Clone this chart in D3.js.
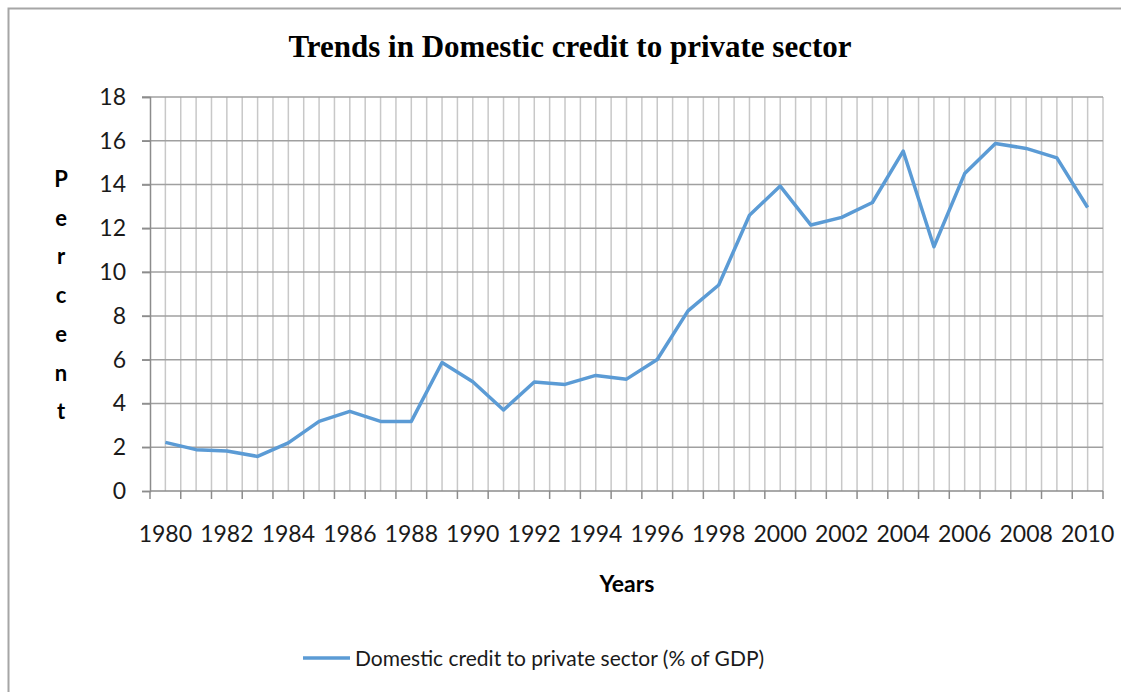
<!DOCTYPE html>
<html>
<head>
<meta charset="utf-8">
<script src="https://cdn.jsdelivr.net/npm/d3@7"></script>
<style>
  body { margin: 0; background: #fff; }
  svg { display: block; }
</style>
</head>
<body>
<div id="chart"></div>
<script>
// Chart data
var years = d3.range(1980, 2011);
var credit = [2.22, 1.89, 1.83, 1.58, 2.2, 3.18, 3.64, 3.18, 3.18, 5.87,
              4.99, 3.7, 4.98, 4.87, 5.28, 5.11, 6.01, 8.23, 9.41, 12.6,
              13.93, 12.15, 12.5, 13.18, 15.53, 11.16, 14.5, 15.88, 15.65, 15.22,
              12.95];
var yTicks = [0, 2, 4, 6, 8, 10, 12, 14, 16, 18];
var xLabels = years.filter(function(y) { return y % 2 === 0; });
var seriesName = "Domestic credit to private sector (% of GDP)";

// SVG area
var svgWidth = 1121;
var svgHeight = 692;

var chartMargin = { top: 97, right: 18, bottom: 201, left: 150 };
var chartWidth = svgWidth - chartMargin.left - chartMargin.right;
var chartHeight = svgHeight - chartMargin.top - chartMargin.bottom;

var svg = d3.select("#chart")
    .append("svg")
    .attr("width", svgWidth)
    .attr("height", svgHeight);

// outer frame
svg.append("rect")
    .attr("x", 8.5).attr("y", 8.5)
    .attr("width", svgWidth + 10).attr("height", svgHeight + 10)
    .attr("fill", "none")
    .attr("stroke", "#a6a6a6")
    .attr("stroke-width", 2);

var chartGroup = svg.append("g")
    .attr("transform", `translate(${chartMargin.left}, ${chartMargin.top})`);

// scales
var xBandScale = d3.scaleBand()
    .domain(years)
    .range([0, chartWidth]);

var yLinearScale = d3.scaleLinear()
    .domain([0, 18])
    .range([chartHeight, 0]);

var bw = xBandScale.bandwidth();

// vertical gridlines: category edges and centres
var vLines = [];
years.forEach(function(y) {
    vLines.push(xBandScale(y) + bw / 2);
    vLines.push(xBandScale(y) + bw);
});
chartGroup.append("g")
    .selectAll("line")
    .data(vLines)
    .enter()
    .append("line")
    .attr("x1", d => d).attr("x2", d => d)
    .attr("y1", 0).attr("y2", chartHeight)
    .attr("stroke", "#c8c8c8")
    .attr("stroke-width", 1.5);

// horizontal gridlines
chartGroup.append("g")
    .selectAll("line")
    .data(yTicks.filter(d => d > 0))
    .enter()
    .append("line")
    .attr("x1", -8).attr("x2", chartWidth)
    .attr("y1", d => yLinearScale(d)).attr("y2", d => yLinearScale(d))
    .attr("stroke", "#a0a0a0")
    .attr("stroke-width", 1.5);

// left axis
var leftAxis = d3.axisLeft(yLinearScale)
    .tickValues(yTicks)
    .tickSize(8)
    .tickPadding(16);

var yAxisG = chartGroup.append("g").call(leftAxis);
yAxisG.select(".domain").attr("stroke", "#8c8c8c").attr("stroke-width", 1.5);
yAxisG.selectAll(".tick line").attr("stroke", "#8c8c8c").attr("stroke-width", 1.5);
yAxisG.selectAll("text")
    .attr("fill", "#1a1a1a")
    .style("font-family", "Lato, 'Open Sans', sans-serif")
    .style("font-size", "23px");

// bottom axis: ticks on every category edge
var bottomAxisG = chartGroup.append("g")
    .attr("transform", `translate(0, ${chartHeight})`);
bottomAxisG.append("line")
    .attr("x1", 0).attr("x2", chartWidth)
    .attr("stroke", "#8c8c8c").attr("stroke-width", 1.5);
bottomAxisG.selectAll("line.tick")
    .data([years[0]].concat(years))
    .enter()
    .append("line")
    .attr("class", "tick")
    .attr("x1", (d, i) => i === 0 ? 0 : xBandScale(d) + bw)
    .attr("x2", (d, i) => i === 0 ? 0 : xBandScale(d) + bw)
    .attr("y1", 0).attr("y2", 8)
    .attr("stroke", "#8c8c8c").attr("stroke-width", 1.5);
bottomAxisG.selectAll("text")
    .data(xLabels)
    .enter()
    .append("text")
    .attr("x", d => xBandScale(d) + bw / 2)
    .attr("y", 51)
    .attr("text-anchor", "middle")
    .attr("fill", "#1a1a1a")
    .style("font-family", "Lato, 'Open Sans', sans-serif")
    .style("font-size", "23px")
    .text(d => d);

// the line
var line = d3.line()
    .x((d, i) => xBandScale(years[i]) + bw / 2)
    .y(d => yLinearScale(d));

chartGroup.append("path")
    .datum(credit)
    .attr("d", line)
    .attr("fill", "none")
    .attr("stroke", "#5b9bd5")
    .attr("stroke-width", 3.5)
    .attr("stroke-linejoin", "round");

// title
svg.append("text")
    .attr("x", 570)
    .attr("y", 57)
    .attr("text-anchor", "middle")
    .style("font-family", "'Liberation Serif', 'Times New Roman', serif")
    .style("font-weight", "bold")
    .style("font-size", "31px")
    .text("Trends in Domestic credit to private sector");

// y axis title, letters stacked
var yTitle = "Percent".split("");
svg.append("g")
    .selectAll("text")
    .data(yTitle)
    .enter()
    .append("text")
    .attr("x", 61)
    .attr("y", (d, i) => 187 + i * 38.7)
    .attr("text-anchor", "middle")
    .style("font-family", "Lato, 'Open Sans', sans-serif")
    .style("font-weight", "bold")
    .style("font-size", "22px")
    .text(d => d);

// x axis title
svg.append("text")
    .attr("x", 627)
    .attr("y", 592)
    .attr("text-anchor", "middle")
    .style("font-family", "Lato, 'Open Sans', sans-serif")
    .style("font-weight", "bold")
    .style("font-size", "23px")
    .text("Years");

// legend
var legend = svg.append("g").attr("transform", "translate(303, 658)");
legend.append("line")
    .attr("x1", 0).attr("x2", 47)
    .attr("stroke", "#5b9bd5")
    .attr("stroke-width", 3.5);
legend.append("text")
    .attr("x", 52)
    .attr("y", 8)
    .attr("fill", "#1a1a1a")
    .style("font-family", "Lato, 'Open Sans', sans-serif")
    .style("font-size", "21px")
    .text(seriesName);
</script>
</body>
</html>
